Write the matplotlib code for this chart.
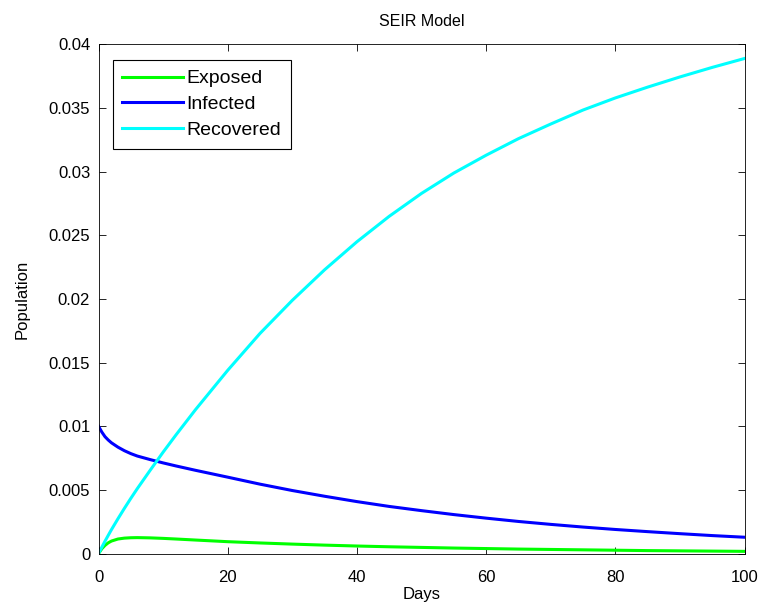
import matplotlib
matplotlib.use("Agg")
import matplotlib.pyplot as plt
from matplotlib.ticker import FuncFormatter, MultipleLocator

plt.rcParams['font.family'] = ['Liberation Sans', 'DejaVu Sans']

# Sample days of the simulation
days = [0, 0.5, 1, 1.5, 2, 3, 4, 5, 6, 8, 10, 12, 15, 20, 25, 30, 35, 40,
        45, 50, 55, 60, 65, 70, 75, 80, 85, 90, 95, 100]

# Population fractions in each compartment
exposed = [0.0, 0.00037, 0.00064, 0.00084, 0.00098, 0.00114, 0.00121, 0.00124,
           0.00125, 0.00123, 0.00119, 0.00114, 0.00106, 0.00093, 0.00083,
           0.00074, 0.00066, 0.00059, 0.00053, 0.00048, 0.00043, 0.00039,
           0.00035, 0.00032, 0.00029, 0.00026, 0.00023, 0.00021, 0.00019,
           0.00017]
infected = [0.0100, 0.00955, 0.00918, 0.00892, 0.0087, 0.00836, 0.00808, 0.00785,
            0.00766, 0.00738, 0.00712, 0.00688, 0.00654, 0.0060, 0.00545,
            0.00495, 0.0045, 0.00408, 0.0037, 0.00337, 0.00306, 0.00278,
            0.00252, 0.00229, 0.00208, 0.00189, 0.00172, 0.00156, 0.00141,
            0.00128]
recovered = [0.0, 0.00049, 0.00097, 0.00143, 0.00188, 0.00273, 0.00355, 0.00434,
             0.00510, 0.00655, 0.00797, 0.00933, 0.0113, 0.0144, 0.0173,
             0.0199, 0.0223, 0.0245, 0.0265, 0.0283, 0.0299, 0.0313, 0.0326,
             0.03375, 0.03485, 0.0358, 0.03665, 0.03745, 0.0382, 0.0389]

fig = plt.figure(figsize=(7.64, 6.07), dpi=100)
ax = fig.add_axes([0.129, 0.0881, 0.8455, 0.8386])

ax.plot(days, exposed, color=(0, 1, 0), lw=2.2, label='Exposed')
ax.plot(days, infected, color=(0, 0, 1), lw=2.2, label='Infected')
ax.plot(days, recovered, color=(0, 1, 1), lw=2.2, label='Recovered')

ax.set_xlim(0, 100)
ax.set_ylim(0, 0.04)
ax.xaxis.set_major_locator(MultipleLocator(20))
ax.yaxis.set_major_locator(MultipleLocator(0.005))
ax.yaxis.set_major_formatter(FuncFormatter(lambda v, p: '%g' % round(v, 4)))

ax.tick_params(direction='in', top=True, right=True, length=5, width=0.6,
               labelsize=12)
ax.tick_params(axis='x', pad=12)
ax.tick_params(axis='y', pad=6)
for s in ax.spines.values():
    s.set_linewidth(0.6)

ax.set_title('SEIR Model', fontsize=11.5, pad=13)
ax.set_xlabel('Days', fontsize=12, labelpad=1)
ax.set_ylabel('Population', fontsize=12, labelpad=14)

leg = ax.legend(loc='upper left', bbox_to_anchor=(0.022, 0.9695),
                borderaxespad=0, fancybox=False, framealpha=1,
                edgecolor='black', fontsize=14, handlelength=3.1,
                handletextpad=0.18, labelspacing=0.42, borderpad=0.5)
leg.get_frame().set_linewidth(0.8)

fig.savefig('out.png', dpi=100)
